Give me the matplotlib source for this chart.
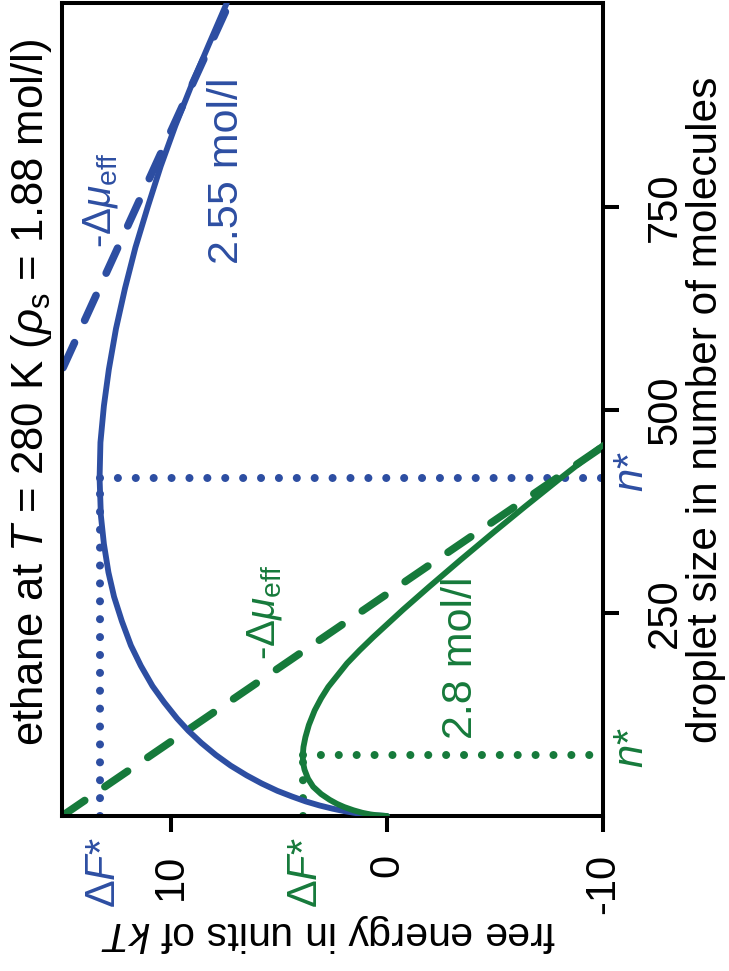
import matplotlib
matplotlib.use('Agg')
import matplotlib.pyplot as plt

plt.rcParams['font.family'] = ['Liberation Sans', 'DejaVu Sans']
plt.rcParams['mathtext.fontset'] = 'custom'
plt.rcParams['mathtext.rm'] = 'Liberation Sans'
plt.rcParams['mathtext.it'] = 'Liberation Sans:italic'
plt.rcParams['mathtext.bf'] = 'Liberation Sans:bold'

BLUE = '#2d4ea2'
GREEN = '#167a3b'

# ---- data (droplet size n, free energy F in kT) ----
n_blue = [0, 1, 2, 4, 6, 9, 13, 18, 24, 31, 40, 50, 62, 75, 90, 105, 120,
          140, 160, 185, 210, 240, 270, 300, 335, 370, 416, 460, 505, 550,
          600, 650, 700, 750, 800, 850, 900, 950, 1001]
F_blue = [0, 0.65, 1.0, 1.55, 1.98, 2.52, 3.13, 3.77, 4.4, 5.08, 5.8, 6.5,
          7.24, 7.92, 8.6, 9.2, 9.72, 10.32, 10.86, 11.4, 11.86, 12.28, 12.64,
          12.9, 13.11, 13.25, 13.31, 13.27, 13.11, 12.88, 12.55, 12.13, 11.65,
          11.08, 10.48, 9.8, 9.05, 8.25, 7.42]

n_green = [0, 1, 2, 4, 7, 11, 15, 20, 27, 36, 46, 57, 66, 75, 85, 97, 112,
           130, 145, 159, 173, 188, 204, 220, 254, 282, 315, 349, 381, 414,
           438, 457]
F_green = [0, 0.5, 0.78, 1.15, 1.55, 1.98, 2.32, 2.66, 3.05, 3.42, 3.66, 3.82,
           3.89, 3.9, 3.87, 3.78, 3.62, 3.35, 3.05, 2.72, 2.3, 1.85, 1.27,
           0.65, -0.74, -1.94, -3.39, -4.92, -6.39, -7.94, -9.09, -10.02]

n_blue_dash = [552, 1001]
F_blue_dash = [15.0, 7.3]
n_green_dash = [0, 455]
F_green_dash = [15.05, -10.0]

nstar_blue, Fstar_blue = 416, 13.3
nstar_green, Fstar_green = 75, 3.9

F_ticks = [10, 0, -10]
n_ticks = [250, 500, 750]
F_lim = (15.05, -10)
n_lim = (0, 1001)

W, H = 729, 971
fig = plt.figure(figsize=(W / 100, H / 100), dpi=100)
ax = fig.add_axes([62 / W, (H - 816) / H, (603 - 62) / W, (816 - 3) / H])

def px(x, y):
    return x / W, 1 - y / H

dot = dict(lw=5.8, linestyle=(0, (0.001, 2.22)), dash_capstyle='round')
dash = dict(lw=5.5, linestyle=(0, (3.6, 3.2)), dash_capstyle='round')
solid = dict(lw=4.2, solid_capstyle='round', solid_joinstyle='round')

# dotted guide lines
ax.plot([Fstar_blue, Fstar_blue], [0, nstar_blue], color=BLUE, **dot)
ax.plot([Fstar_blue, F_lim[1]], [nstar_blue, nstar_blue], color=BLUE, **dot)
ax.plot([Fstar_green, Fstar_green], [0, nstar_green], color=GREEN, **dot)
ax.plot([Fstar_green, F_lim[1]], [nstar_green, nstar_green], color=GREEN, **dot)

# dashed lines
ax.plot(F_blue_dash, n_blue_dash, color=BLUE, **dash)
ax.plot(F_green_dash, n_green_dash, color=GREEN, **dash)

# curves
ax.plot(F_blue, n_blue, color=BLUE, zorder=3, **solid)
ax.plot(F_green, n_green, color=GREEN, zorder=4, **solid)

ax.set_xlim(*F_lim)
ax.set_ylim(*n_lim)

ax.set_xticks(F_ticks)
ax.set_xticklabels([str(v) for v in F_ticks], rotation=90)
ax.yaxis.tick_right()
ax.set_yticks(n_ticks)
ax.set_yticklabels([str(v) for v in n_ticks], rotation=90, va='center')
ax.tick_params(direction='out', length=11.5, width=2.9, labelsize=30)
ax.tick_params(axis='x', pad=16)
ax.tick_params(axis='y', pad=19)
for s in ax.spines.values():
    s.set_linewidth(2.9)

fig.text(*px(32, 392), r'ethane at $T$ = 280 K ($\rho_{\rm s}$ = 1.88 mol/l)',
         rotation=90, ha='center', va='center', fontsize=31.5)
fig.text(*px(706, 410), 'droplet size in number of molecules',
         rotation=90, ha='center', va='center', fontsize=30.5)
fig.text(*px(328, 933), r'free energy in units of $kT$',
         rotation=180, ha='center', va='center', fontsize=29.5)

fig.text(*px(104, 873), r'Δ$F$*', rotation=90, ha='center', va='center',
         fontsize=30, color=BLUE)
fig.text(*px(306, 873), r'Δ$F$*', rotation=90, ha='center', va='center',
         fontsize=30, color=GREEN)
fig.text(*px(632, 472), r'$n$*', rotation=90, ha='center', va='center',
         fontsize=30, color=BLUE)
fig.text(*px(632, 748), r'$n$*', rotation=90, ha='center', va='center',
         fontsize=30, color=GREEN)

fig.text(*px(227, 171), '2.55 mol/l', rotation=90, ha='center', va='center',
         fontsize=31, color=BLUE)
fig.text(*px(461, 658), '2.8 mol/l', rotation=90, ha='center', va='center',
         fontsize=31, color=GREEN)
fig.text(*px(100, 200), r'-Δ$\mu_{\rm eff}$', rotation=90, ha='center',
         va='center', fontsize=29, color=BLUE)
fig.text(*px(265, 612), r'-Δ$\mu_{\rm eff}$', rotation=90, ha='center',
         va='center', fontsize=29, color=GREEN)

fig.savefig('out.png', dpi=100)
